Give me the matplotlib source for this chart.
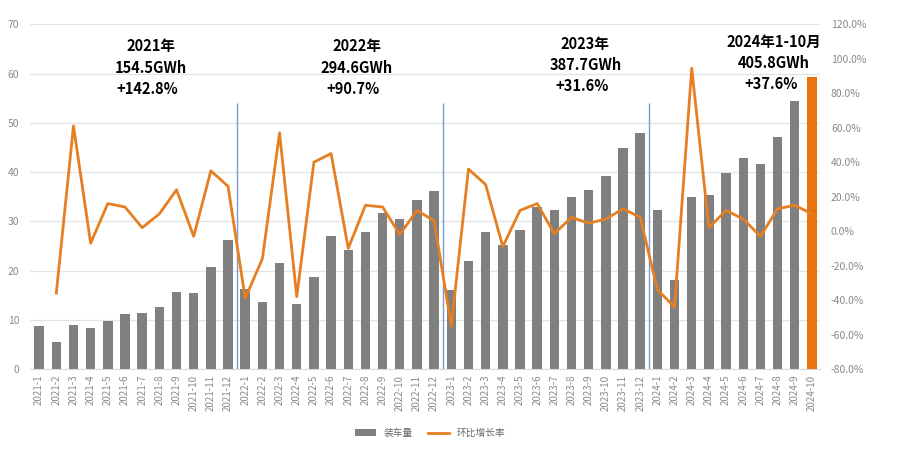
import numpy as np
import matplotlib.pyplot as plt

plt.rcParams['font.family'] = ['Noto Sans CJK SC', 'DejaVu Sans']

months = ([f"2021-{m}" for m in range(1, 13)] + [f"2022-{m}" for m in range(1, 13)]
          + [f"2023-{m}" for m in range(1, 13)] + [f"2024-{m}" for m in range(1, 11)])

volume = [8.7, 5.5, 9.0, 8.3, 9.7, 11.1, 11.3, 12.6, 15.7, 15.5, 20.8, 26.2,
          16.2, 13.7, 21.5, 13.3, 18.6, 27.0, 24.2, 27.8, 31.6, 30.5, 34.3, 36.1,
          16.1, 21.9, 27.8, 25.1, 28.2, 32.8, 32.2, 34.9, 36.4, 39.1, 44.9, 47.9,
          32.3, 18.1, 35.0, 35.3, 39.9, 42.8, 41.6, 47.2, 54.5, 59.2]

mom = [np.nan, -36, 61, -7, 16, 14, 2, 10, 24, -3, 35, 26,
       -39, -16, 57, -38, 40, 45, -10, 15, 14, -2, 12, 6,
       -55, 36, 27, -9, 12, 16, -1.5, 8, 4.6, 7, 13, 8,
       -34, -44, 94.5, 2, 12, 7, -3, 13, 15, 10]

notes = [("2021年", "154.5GWh", "+142.8%"),
         ("2022年", "294.6GWh", "+90.7%"),
         ("2023年", "387.7GWh", "+31.6%"),
         ("2024年1-10月", "405.8GWh", "+37.6%")]

gray = '#808080'
orange = '#E67E22'

fig = plt.figure(figsize=(9.15, 4.49), dpi=100)
ax = fig.add_axes([0.033, 0.178, 0.863, 0.768])
x = np.arange(len(months))
colors = [gray] * (len(months) - 1) + ['#E8730F']
bars = ax.bar(x, volume, width=0.55, color=colors, zorder=2, label='装车量')
ax.set_ylim(0, 70)
ax.set_yticks(range(0, 71, 10))
ax.set_xlim(-0.52, 45.46)
ax.grid(axis='y', color='#e3e3e3', linewidth=0.9, zorder=0)
ax.set_xticks(x)
ax.set_xticklabels(months, rotation=90, fontsize=7, color='#8a8a8a')
ax.tick_params(axis='y', labelsize=7.5, colors='#8a8a8a', length=0, pad=8)
ax.tick_params(axis='x', length=0, pad=4)
for s in ['top', 'right', 'left']:
    ax.spines[s].set_visible(False)
ax.spines['bottom'].set_color('#d9d9d9')

for xv in [11.5, 23.5, 35.5]:
    ax.vlines(xv, 0, 54, color='#7f9ad0', linewidth=1.0, zorder=3)

ax2 = ax.twinx()
line, = ax2.plot(x, mom, color=orange, linewidth=2.0, zorder=4, label='环比增长率')
ax2.set_ylim(-80, 120)
ax2.set_yticks(range(-80, 121, 20))
ax2.set_yticklabels([f"{v:.1f}%" for v in range(-80, 121, 20)])
ax2.tick_params(axis='y', labelsize=7.5, colors='#8a8a8a', length=0, pad=8)
for s in ax2.spines.values():
    s.set_visible(False)

# year annotations
pos = [(6.5, 65.5), (18.5, 65.5), (31.8, 66.0), (42.8, 66.5)]
for (t1, t2, t3), (px, py) in zip(notes, pos):
    ax.text(px, py, t1, ha='center', va='center', fontsize=10.5, fontweight='bold', zorder=5)
    ax.text(px, py - 4.3, t2, ha='center', va='center', fontsize=10.5, fontweight='bold', zorder=5)
    ax.text(px - 0.2, py - 8.6, t3, ha='center', va='center', fontsize=10.5, fontweight='bold', zorder=5)

fig.legend(handles=[bars, line], labels=['装车量', '环比增长率'], loc='center',
           bbox_to_anchor=(0.47, 0.035), ncol=2, frameon=False, fontsize=7,
           handlelength=2.2, columnspacing=1.5, labelcolor='#666666')

fig.savefig('out.png', dpi=100)
